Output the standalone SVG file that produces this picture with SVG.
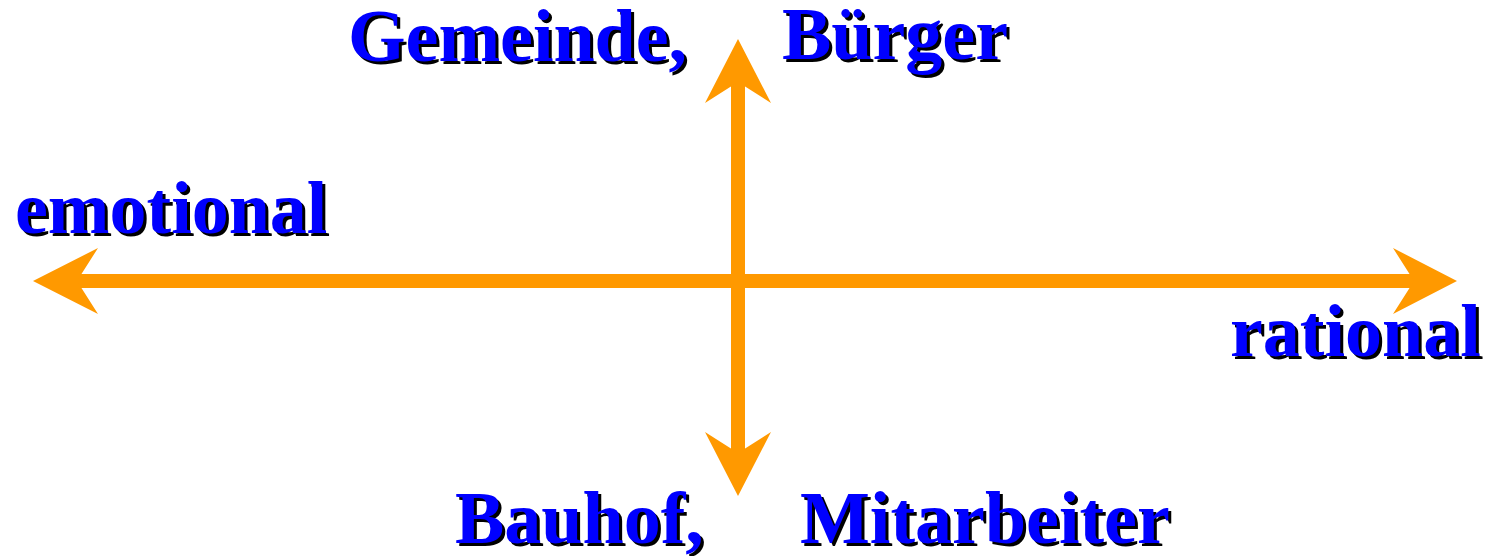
<svg xmlns="http://www.w3.org/2000/svg" width="1491" height="556" viewBox="0 0 1491 556">
<style>
text{font-family:"Liberation Serif","Times New Roman",serif;font-weight:bold;font-size:74px}
.sh{fill:#000}
.fg{fill:#0000FF}
.ax{stroke:#FF9900;stroke-width:14;fill:none}
.hd{fill:#FF9900}
</style>
<g id="connectors">
<line class="ax" x1="77" y1="281" x2="1414" y2="281"/>
<line class="ax" x1="738" y1="82" x2="738" y2="453"/>
<polygon class="hd" points="33,281 98,248 77,281 98,314"/>
<polygon class="hd" points="1457,281 1393,248 1414,281 1393,314"/>
<polygon class="hd" points="738,39 705,103 738,82 771,103"/>
<polygon class="hd" points="738,496 705,432 738,453 771,432"/>
</g>
<g id="gemeinde"><text class="sh" x="351" y="64">Gemeinde,</text><text class="fg" x="348" y="61">Gemeinde,</text></g>
<g id="buerger"><text class="sh" x="785" y="62">Bürger</text><text class="fg" x="782" y="59">Bürger</text></g>
<g id="emotional"><text class="sh" x="18" y="236">emotional</text><text class="fg" x="15" y="233">emotional</text></g>
<g id="rational"><text class="sh" x="1233" y="359">rational</text><text class="fg" x="1230" y="356">rational</text></g>
<g id="bauhof"><text class="sh" x="458" y="546">Bauhof,</text><text class="fg" x="455" y="543">Bauhof,</text></g>
<g id="mitarbeiter"><text class="sh" x="803" y="546">Mitarbeiter</text><text class="fg" x="800" y="543">Mitarbeiter</text></g>
</svg>
